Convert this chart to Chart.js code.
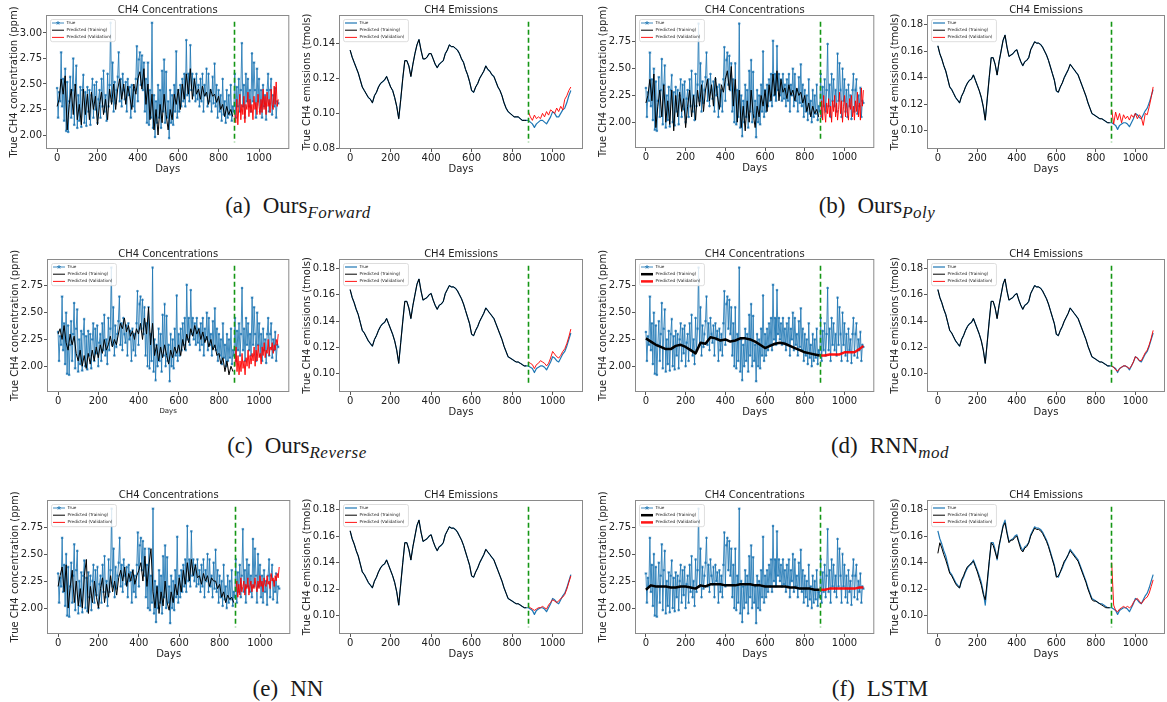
<!DOCTYPE html>
<html>
<head>
<meta charset="utf-8">
<script src="https://cdn.jsdelivr.net/npm/chart.js@4.4.0/dist/chart.umd.min.js"></script>
<style>
html, body { margin: 0; padding: 0; background: #fff; }
#fig { position: relative; width: 1167px; height: 702px; overflow: hidden; }
#fig canvas { position: absolute; }
.cap { position: absolute; font-family: 'Liberation Serif', serif; font-size: 23px; color: #1a1a1a; white-space: nowrap; transform: translateX(-50%); }
.cap .tag { margin-right: 12px; }
.cap sub { font-style: italic; font-size: 17px; vertical-align: -5px; line-height: 0; letter-spacing: 0.5px; }
</style>
</head>
<body>
<div id="fig"></div>
<script>
// split between training and validation (days)
const splitDay = 876;

const xTicks = [0, 200, 400, 600, 800, 1000];
const concTicksA = [2.00, 2.25, 2.50, 2.75, 3.00];
const concTicks = [2.00, 2.25, 2.50, 2.75];
const emisTicksA = [0.08, 0.10, 0.12, 0.14];
const emisTicks = [0.10, 0.12, 0.14, 0.16, 0.18];

function range(a, b, s) { const r = []; for (let v = a; v <= b; v += s) r.push(v); return r; }
const concDays = range(0, 1095, 5);
const trainDays = range(0, 870, 10);
const valDays = range(880, 1095, 5);
const smoothTrainDays = range(0, 875, 25);
const smoothValDays = [875, 900, 925, 950, 975, 1000, 1025, 1050, 1075, 1095];
const emisDays = range(0, 1090, 10);
const emisValDays = range(880, 1090, 10);

// ---- CH4 concentrations, true (panel a uses its own scaling)
const concTrueA = [
  2.46,2.17,2.42,2.33,2.81,2.28,2.55,2.14,2.65,2.04, 2.52,2.03,2.33,2.57,2.17,2.44,2.75,2.10,2.49,2.68,
  2.07,2.39,2.14,2.47,2.08,2.44,2.59,2.12,2.42,2.09, 2.47,2.23,2.44,2.10,2.39,2.55,2.17,2.49,2.25,2.52,
  2.12,2.35,2.44,2.17,2.55,2.28,2.63,2.23,2.39,2.14, 2.60,2.28,2.49,3.10,2.33,2.71,2.23,2.52,2.31,2.44,
  2.57,2.81,2.33,2.55,2.28,2.60,2.44,2.35,2.52,2.23, 2.55,2.39,2.47,2.17,2.49,2.28,2.44,2.23,2.55,2.87,
  2.33,2.74,2.81,2.49,2.78,2.44,2.71,2.23,2.55,2.12, 2.71,2.10,2.44,2.17,3.10,2.07,2.39,1.98,2.33,2.12,
  2.49,2.17,2.44,2.07,2.63,2.23,2.74,2.12,2.62,2.17, 2.33,1.97,2.44,2.12,2.39,2.10,2.49,2.23,2.82,2.17,
  2.44,2.23,2.49,2.28,2.55,2.33,2.60,2.28,2.93,2.39, 2.60,2.33,2.88,2.44,2.60,2.39,2.55,2.33,2.60,2.35,
  2.49,2.28,2.55,2.33,2.60,2.23,2.49,2.39,2.65,2.28, 2.60,2.33,2.44,2.23,2.57,2.31,2.70,2.28,2.49,2.17,
  2.44,2.23,2.39,2.14,2.55,2.20,2.33,2.12,2.44,2.17, 2.39,2.20,2.49,2.14,2.28,2.23,2.60,2.17,2.47,2.28,
  2.55,2.23,2.44,2.90,2.28,2.49,2.17,2.60,2.33,2.55, 2.28,2.44,2.23,2.80,2.33,2.71,2.44,2.17,2.65,2.33,
  2.55,2.23,2.44,2.17,2.49,2.28,2.39,2.15,2.44,2.60, 2.23,2.44,2.55,2.20,2.39,2.28,2.46,2.17,2.33,2.31
];
const concTrue = [
  2.32,2.05,2.28,2.20,2.65,2.15,2.40,2.02,2.50,1.93, 2.38,1.92,2.20,2.42,2.05,2.30,2.59,1.98,2.35,2.53,
  1.95,2.25,2.02,2.33,1.96,2.30,2.44,2.00,2.28,1.97, 2.33,2.10,2.30,1.98,2.25,2.40,2.05,2.35,2.12,2.38,
  2.00,2.22,2.30,2.05,2.40,2.15,2.48,2.10,2.25,2.02, 2.45,2.15,2.35,2.92,2.20,2.55,2.10,2.38,2.18,2.30,
  2.42,2.65,2.20,2.40,2.15,2.45,2.30,2.22,2.38,2.10, 2.40,2.25,2.33,2.05,2.35,2.15,2.30,2.10,2.40,2.70,
  2.20,2.58,2.65,2.35,2.62,2.30,2.55,2.10,2.40,2.00, 2.55,1.98,2.30,2.05,2.92,1.95,2.25,1.87,2.20,2.00,
  2.35,2.05,2.30,1.95,2.48,2.10,2.58,2.00,2.47,2.05, 2.20,1.86,2.30,2.00,2.25,1.98,2.35,2.10,2.66,2.05,
  2.30,2.10,2.35,2.15,2.40,2.20,2.45,2.15,2.76,2.25, 2.45,2.20,2.71,2.30,2.45,2.25,2.40,2.20,2.45,2.22,
  2.35,2.15,2.40,2.20,2.45,2.10,2.35,2.25,2.50,2.15, 2.45,2.20,2.30,2.10,2.42,2.18,2.54,2.15,2.35,2.05,
  2.30,2.10,2.25,2.02,2.40,2.08,2.20,2.00,2.30,2.05, 2.25,2.08,2.35,2.02,2.15,2.10,2.45,2.05,2.33,2.15,
  2.40,2.10,2.30,2.73,2.15,2.35,2.05,2.45,2.20,2.40, 2.15,2.30,2.10,2.64,2.20,2.55,2.30,2.05,2.50,2.20,
  2.40,2.10,2.30,2.05,2.35,2.15,2.25,2.03,2.30,2.45, 2.10,2.30,2.40,2.08,2.25,2.15,2.32,2.05,2.20,2.18
];

// ---- predicted concentrations (training every 10 days, validation every 5 days)
const concTrainA = [
  2.28,2.35,2.55,2.40,2.58,2.05,2.30,2.45,2.20,2.50, 2.15,2.30,2.10,2.45,2.20,2.40,2.15,2.42,2.25,2.38,
  2.10,2.30,2.42,2.20,2.35,2.15,2.45,2.30,2.50,2.25, 2.45,2.55,2.35,2.50,2.30,2.48,2.38,2.25,2.50,2.40,
  2.55,2.62,2.45,2.65,2.30,2.50,2.15,2.40,2.05,2.25, 2.00,2.30,2.12,2.40,2.20,2.05,2.25,2.15,2.40,2.30,
  2.45,2.25,2.50,2.35,2.60,2.40,2.65,2.35,2.55,2.40, 2.45,2.35,2.48,2.38,2.42,2.30,2.45,2.38,2.40,2.32,
  2.38,2.25,2.30,2.18,2.28,2.20,2.25,2.18
];
const concValA = [
  2.20,2.12,2.35,2.10,2.28,2.40,2.15,2.30,2.20,2.38, 2.12,2.30,2.25,2.42,2.18,2.35,2.22,2.30,2.15,2.38,
  2.25,2.32,2.20,2.40,2.28,2.20,2.35,2.22,2.45,2.25, 2.38,2.20,2.42,2.28,2.35,2.22,2.45,2.30,2.25,2.48,
  2.30,2.52,2.28,2.35
];
const concTrainPoly = [
  2.18,2.25,2.40,2.20,2.45,1.95,2.15,2.30,2.05,2.35, 2.00,2.20,1.98,2.30,1.92,2.25,2.05,2.28,2.10,2.22,
  1.95,2.15,2.30,2.05,2.25,2.02,2.30,2.15,2.35,2.10, 2.30,2.40,2.20,2.35,2.15,2.42,2.25,2.12,2.35,2.28,
  2.40,2.48,2.30,2.52,2.15,2.40,2.00,2.30,1.95,2.15, 1.92,2.20,2.00,2.30,2.08,1.95,2.15,2.05,2.25,2.15,
  2.30,2.10,2.35,2.20,2.45,2.25,2.48,2.20,2.40,2.28, 2.32,2.22,2.35,2.25,2.30,2.20,2.32,2.25,2.28,2.18,
  2.25,2.10,2.18,2.05,2.15,2.08,2.12,2.05
];
const concValPoly = [
  2.05,2.20,2.02,2.25,2.10,2.00,2.18,2.08,2.22,2.05, 2.15,2.00,2.20,2.10,2.25,2.05,2.18,2.02,2.12,2.28,
  2.08,2.20,2.00,2.15,2.25,2.05,2.18,2.10,2.02,2.22, 2.12,2.25,2.05,2.15,2.02,2.20,2.10,2.28,2.05,2.18,
  2.02,2.32,2.15,2.30
];
const concTrainRev = [
  2.30,2.35,2.25,2.38,2.22,2.15,2.30,2.20,2.28,2.12, 2.05,2.15,2.00,2.10,1.98,2.12,2.02,2.15,2.05,2.18,
  2.08,2.20,2.12,2.25,2.15,2.20,2.28,2.18,2.25,2.20, 2.30,2.40,2.35,2.45,2.32,2.38,2.28,2.33,2.25,2.35,
  2.30,2.40,2.25,2.45,2.30,2.55,2.20,2.40,2.10,2.20, 2.05,2.18,2.08,2.20,2.10,2.02,2.15,2.08,2.18,2.12,
  2.20,2.10,2.25,2.15,2.30,2.22,2.35,2.28,2.38,2.30, 2.35,2.25,2.32,2.22,2.28,2.18,2.25,2.15,2.20,2.10,
  2.12,2.02,2.08,1.95,2.05,1.92,2.00,1.95
];
const concValRev = [
  2.00,2.18,1.95,2.10,1.92,2.05,1.95,2.12,1.98,2.05, 1.92,2.08,2.00,2.15,1.98,2.10,2.02,2.12,2.05,2.18,
  2.00,2.15,2.05,2.20,2.08,2.12,2.02,2.18,2.10,2.22, 2.08,2.15,2.12,2.25,2.10,2.18,2.15,2.22,2.12,2.20,
  2.15,2.25,2.20,2.30
];
const concTrainNN = [
  2.20,2.30,2.38,2.15,2.40,2.00,2.20,2.35,2.05,2.25, 2.02,2.18,2.00,2.30,2.45,1.95,2.20,2.05,2.25,2.10,
  2.00,2.18,2.28,2.05,2.22,2.10,2.30,2.15,2.25,2.12, 2.28,2.35,2.25,2.38,2.20,2.32,2.25,2.35,2.22,2.30,
  2.35,2.42,2.25,2.48,2.20,2.40,2.55,2.15,2.00,2.20, 1.95,2.15,2.02,2.25,2.05,1.98,2.15,2.05,2.22,2.12,
  2.28,2.15,2.35,2.22,2.42,2.25,2.45,2.30,2.40,2.28, 2.30,2.22,2.32,2.25,2.30,2.20,2.28,2.25,2.25,2.18,
  2.22,2.10,2.15,2.05,2.12,2.08,2.10,2.05
];
const concValNN = [
  2.15,2.25,2.10,2.22,2.12,2.28,2.15,2.20,2.25,2.12, 2.22,2.18,2.28,2.12,2.20,2.25,2.15,2.22,2.18,2.28,
  2.20,2.15,2.25,2.18,2.30,2.20,2.25,2.15,2.28,2.22, 2.20,2.30,2.22,2.25,2.18,2.32,2.25,2.28,2.20,2.30,
  2.25,2.32,2.28,2.38
];
// smooth predictions (every 25 days)
const concTrainRNN = [
  2.26,2.23,2.20,2.18,2.16,2.16,2.19,2.20,2.18,2.15, 2.12,2.22,2.21,2.27,2.26,2.24,2.25,2.23,2.24,2.26,
  2.26,2.25,2.23,2.20,2.17,2.19,2.21,2.22,2.21,2.19, 2.17,2.15,2.13,2.12,2.11,2.10
];
const concValRNN = [2.10,2.10,2.11,2.11,2.11,2.13,2.13,2.13,2.16,2.19];
const concTrainLSTM = [
  2.17,2.21,2.20,2.20,2.20,2.19,2.19,2.20,2.20,2.19, 2.18,2.21,2.20,2.22,2.22,2.22,2.21,2.21,2.21,2.22,
  2.22,2.22,2.21,2.21,2.20,2.20,2.20,2.20,2.20,2.19, 2.19,2.18,2.18,2.18,2.17,2.17
];
const concValLSTM = [2.17,2.17,2.18,2.18,2.18,2.18,2.18,2.18,2.19,2.19];

// ---- CH4 emissions, true (every 10 days)
const emisTrueA = [
  0.136,0.132,0.129,0.126,0.123,0.119,0.115,0.113,0.111,0.109, 0.108,0.106,0.110,0.112,0.115,0.117,0.118,0.119,0.121,0.118,
  0.115,0.113,0.109,0.104,0.097,0.108,0.120,0.130,0.130,0.127, 0.121,0.128,0.134,0.139,0.142,0.136,0.131,0.131,0.132,0.134,
  0.134,0.131,0.128,0.126,0.128,0.129,0.130,0.134,0.136,0.139, 0.138,0.138,0.137,0.136,0.134,0.131,0.129,0.125,0.122,0.118,
  0.113,0.112,0.115,0.117,0.120,0.122,0.124,0.127,0.125,0.124, 0.122,0.121,0.118,0.115,0.113,0.110,0.106,0.103,0.101,0.100,
  0.099,0.098,0.098,0.098,0.097,0.096,0.096,0.096,0.096,0.095, 0.094,0.092,0.094,0.095,0.096,0.096,0.095,0.094,0.096,0.098,
  0.101,0.100,0.098,0.098,0.100,0.102,0.103,0.106,0.110,0.113
];
const emisTrue = [
  0.164,0.158,0.154,0.149,0.145,0.139,0.133,0.131,0.128,0.125, 0.123,0.121,0.126,0.129,0.133,0.136,0.138,0.139,0.142,0.138,
  0.134,0.130,0.125,0.118,0.108,0.124,0.140,0.155,0.155,0.150, 0.142,0.152,0.160,0.168,0.172,0.163,0.156,0.157,0.158,0.160,
  0.161,0.156,0.152,0.149,0.152,0.153,0.155,0.161,0.164,0.167, 0.166,0.166,0.165,0.163,0.160,0.157,0.153,0.148,0.143,0.138,
  0.130,0.129,0.133,0.136,0.140,0.143,0.146,0.150,0.148,0.146, 0.144,0.142,0.138,0.134,0.130,0.126,0.121,0.117,0.113,0.112,
  0.111,0.110,0.109,0.109,0.108,0.107,0.106,0.106,0.106,0.105, 0.104,0.101,0.104,0.105,0.106,0.106,0.105,0.103,0.106,0.109,
  0.113,0.112,0.110,0.109,0.112,0.115,0.117,0.121,0.126,0.131
];
const emisTrainLSTM = [
  0.147,0.155,0.151,0.146,0.142,0.137,0.132,0.130,0.127,0.124, 0.122,0.121,0.127,0.130,0.134,0.137,0.138,0.140,0.141,0.137,
  0.133,0.128,0.123,0.116,0.112,0.126,0.141,0.155,0.153,0.148, 0.143,0.153,0.160,0.167,0.170,0.162,0.155,0.157,0.157,0.159,
  0.160,0.155,0.150,0.148,0.151,0.152,0.155,0.160,0.163,0.166, 0.165,0.165,0.164,0.162,0.159,0.156,0.152,0.147,0.142,0.137,
  0.129,0.130,0.133,0.137,0.141,0.143,0.146,0.149,0.147,0.145, 0.143,0.141,0.137,0.133,0.129,0.125,0.120,0.116,0.112,0.111,
  0.111,0.110,0.109,0.108,0.107,0.106,0.106,0.106
];
// predicted emissions, validation (every 10 days from 880)
const emisValA    = [0.101,0.098,0.096,0.099,0.097,0.098,0.097,0.100,0.098,0.101,0.099,0.102,0.101,0.100,0.103,0.101,0.104,0.102,0.108,0.110,0.113,0.115];
const emisValPoly = [0.116,0.105,0.114,0.108,0.113,0.106,0.112,0.109,0.111,0.108,0.112,0.110,0.113,0.109,0.112,0.110,0.104,0.113,0.112,0.118,0.125,0.133];
const emisValRev  = [0.109,0.108,0.107,0.104,0.107,0.108,0.110,0.109,0.108,0.106,0.108,0.112,0.117,0.115,0.113,0.112,0.114,0.117,0.119,0.123,0.128,0.134];
const emisValRNN  = [0.106,0.105,0.103,0.102,0.104,0.105,0.106,0.106,0.105,0.104,0.106,0.109,0.113,0.112,0.110,0.110,0.113,0.116,0.118,0.122,0.127,0.133];
const emisValNN   = [0.107,0.106,0.105,0.104,0.105,0.106,0.106,0.107,0.106,0.105,0.108,0.110,0.112,0.111,0.110,0.111,0.113,0.114,0.116,0.120,0.125,0.130];
const emisValLSTM = [0.140,0.108,0.104,0.103,0.105,0.106,0.107,0.106,0.107,0.106,0.107,0.110,0.112,0.113,0.111,0.109,0.111,0.113,0.114,0.117,0.122,0.127];

const BLUE = '#1f77b4', BLACK = '#000000', RED = 'rgba(255,0,0,0.92)', GREEN = 'rgb(20,150,20)';
Chart.defaults.font.family = "'DejaVu Sans', sans-serif";
Chart.defaults.color = '#222';

const fig = document.getElementById('fig');
const pts = (xs, ys) => ys.map((y, i) => ({ x: xs[i], y: y }));

function drawStar(ctx, x, y, r) {
  ctx.beginPath();
  for (let k = 0; k < 5; k++) {
    const a = -Math.PI / 2 + k * 2 * Math.PI / 5;
    ctx.moveTo(x, y); ctx.lineTo(x + r * Math.cos(a), y + r * Math.sin(a));
  }
  ctx.stroke();
}

function deco(title) {
  return {
    id: 'deco',
    afterDatasetsDraw(chart) {
      const { ctx, chartArea: a, scales } = chart;
      const h = a.bottom - a.top;
      ctx.save();
      // train / validation split
      const x = Math.round(scales.x.getPixelForValue(splitDay)) + 0.5;
      ctx.strokeStyle = GREEN; ctx.lineWidth = 1.6; ctx.setLineDash([5, 3]);
      ctx.beginPath(); ctx.moveTo(x, a.top + 0.05 * h); ctx.lineTo(x, a.bottom - 0.05 * h); ctx.stroke();
      ctx.setLineDash([]);
      // axes frame
      ctx.strokeStyle = '#8a8a8a'; ctx.lineWidth = 1;
      ctx.strokeRect(a.left + 0.5, a.top + 0.5, a.right - a.left - 1, h - 1);
      // title
      ctx.fillStyle = '#222'; ctx.font = "10px 'DejaVu Sans'"; ctx.textAlign = 'center'; ctx.textBaseline = 'alphabetic';
      ctx.fillText(title, (a.left + a.right) / 2, a.top - 2.5);
      // legend
      const ds = chart.data.datasets;
      ctx.font = "4.2px 'DejaVu Sans'";
      const tw = Math.max(...ds.map(d => ctx.measureText(d.label).width));
      const x0 = a.left + 4, y0 = a.top + 4, w = tw + 20, hh = ds.length * 7.2 + 0.6;
      ctx.fillStyle = 'rgba(255,255,255,0.85)'; ctx.strokeStyle = '#d4d4d4'; ctx.lineWidth = 0.8;
      ctx.beginPath(); ctx.roundRect(x0 + 0.5, y0 + 0.5, w, hh, 2); ctx.fill(); ctx.stroke();
      ds.forEach((d, i) => {
        const yy = y0 + 4 + i * 7.2;
        ctx.strokeStyle = d.borderColor; ctx.lineWidth = d.borderWidth;
        ctx.beginPath(); ctx.moveTo(x0 + 2, yy); ctx.lineTo(x0 + 14, yy); ctx.stroke();
        if (d.pointRadius) { ctx.strokeStyle = BLUE; ctx.lineWidth = 0.8; drawStar(ctx, x0 + 8, yy, 2); }
        ctx.fillStyle = '#222'; ctx.textAlign = 'left'; ctx.textBaseline = 'middle';
        ctx.fillText(d.label, x0 + 16.5, yy);
      });
      ctx.restore();
    }
  };
}

function zeroPad(s) { s.paddingLeft = 0; s.paddingRight = 0; s.paddingTop = 0; s.paddingBottom = 0; }

function addChart(frame, title, yLabel, yMin, yMax, yTicks, datasets, daysSize) {
  const [L, T, R, B] = frame;
  const yW = 40, xH = 28, padT = 20, padR = 2;
  const c = document.createElement('canvas');
  c.width = R - L + yW + padR; c.height = B - T + padT + xH;
  c.style.left = (L - yW) + 'px'; c.style.top = (T - padT) + 'px';
  fig.appendChild(c);
  const small = daysSize && daysSize < 10;
  new Chart(c, {
    type: 'line',
    data: { datasets: datasets },
    options: {
      responsive: false, animation: false, events: [],
      layout: { padding: { top: padT, right: padR, left: 0, bottom: 0 } },
      plugins: { legend: { display: false }, tooltip: { enabled: false } },
      elements: { line: { tension: 0, borderJoinStyle: 'round' } },
      scales: {
        x: {
          type: 'linear', min: -55, max: 1150,
          afterBuildTicks: s => { s.ticks = xTicks.map(v => ({ value: v })); },
          afterFit: s => { s.height = xH; zeroPad(s); },
          ticks: { color: '#222', font: { size: 10 }, padding: 0, maxRotation: 0, autoSkip: false, callback: v => String(v) },
          grid: { display: true, drawOnChartArea: false, drawTicks: true, tickLength: 3, color: '#555' },
          border: { display: false },
          title: { display: true, text: 'Days', color: '#222', font: { size: daysSize || 10 }, padding: { top: 0, bottom: small ? 5 : 2 } }
        },
        y: {
          type: 'linear', min: yMin, max: yMax,
          afterBuildTicks: s => { s.ticks = yTicks.map(v => ({ value: v })); },
          afterFit: s => { s.width = yW; zeroPad(s); },
          ticks: { color: '#222', font: { size: 10 }, padding: 1, autoSkip: false, callback: v => v.toFixed(2) },
          grid: { display: true, drawOnChartArea: false, drawTicks: true, tickLength: 3, color: '#555' },
          border: { display: false },
          title: { display: true, text: yLabel, color: '#222', font: { size: 10 }, padding: { top: 2.5, bottom: 0 } }
        }
      }
    },
    plugins: [deco(title)]
  });
}

function concSets(trueVals, tDays, tVals, vDays, vVals, lw) {
  return [
    { label: 'True', data: pts(concDays, trueVals), borderColor: 'rgba(31,119,180,0.85)', borderWidth: 1,
      pointStyle: 'star', pointRadius: 1.3, pointBorderWidth: 0.7, pointBorderColor: BLUE, pointBackgroundColor: BLUE, order: 3 },
    { label: 'Predicted (Training)', data: pts(tDays, tVals), borderColor: BLACK, borderWidth: lw, pointRadius: 0, order: 2 },
    { label: 'Predicted (Validation)', data: pts(vDays, vVals), borderColor: RED, borderWidth: lw, pointRadius: 0, order: 1 }
  ];
}
function emisSets(trueVals, tVals, vVals) {
  return [
    { label: 'True', data: pts(emisDays, trueVals), borderColor: BLUE, borderWidth: 1.2, pointRadius: 0, order: 3 },
    { label: 'Predicted (Training)', data: pts(emisDays, tVals), borderColor: BLACK, borderWidth: 1, pointRadius: 0, order: 2 },
    { label: 'Predicted (Validation)', data: pts(emisValDays, vVals), borderColor: RED, borderWidth: 1, pointRadius: 0, order: 1 }
  ];
}

const concLabel = 'True CH4 concentration (ppm)';
const emisLabel = 'True CH4 emissions (tmols)';
const cT = 'CH4 Concentrations', eT = 'CH4 Emissions';
const cMin = 1.76, cMax = 3.0, eMin = 0.0862, eMax = 0.1872;
const emisTrain = emisTrue.slice(0, trainDays.length);
const emisTrainA = emisTrueA.slice(0, trainDays.length);

// (a) Ours Forward
addChart([46, 15, 292, 149], cT, concLabel, 1.863, 3.176, concTicksA, concSets(concTrueA, trainDays, concTrainA, valDays, concValA, 1));
addChart([339, 15, 583, 149], eT, emisLabel, 0.0797, 0.156, emisTicksA, emisSets(emisTrueA, emisTrainA, emisValA));
// (b) Ours Poly
addChart([635, 15, 877, 148], cT, concLabel, cMin, cMax, concTicks, concSets(concTrue, trainDays, concTrainPoly, valDays, concValPoly, 1));
addChart([927, 15, 1165, 149], eT, emisLabel, eMin, eMax, emisTicks, emisSets(emisTrue, emisTrain, emisValPoly));
// (c) Ours Reverse
addChart([47, 259, 292, 392], cT, concLabel, cMin, cMax, concTicks, concSets(concTrue, trainDays, concTrainRev, valDays, concValRev, 1), 7);
addChart([339, 259, 583, 392], eT, emisLabel, eMin, eMax, emisTicks, emisSets(emisTrue, emisTrain, emisValRev));
// (d) RNN mod
addChart([635, 259, 877, 392], cT, concLabel, cMin, cMax, concTicks, concSets(concTrue, smoothTrainDays, concTrainRNN, smoothValDays, concValRNN, 2.5));
addChart([927, 259, 1165, 392], eT, emisLabel, eMin, eMax, emisTicks, emisSets(emisTrue, emisTrain, emisValRNN));
// (e) NN
addChart([47, 500, 293, 634], cT, concLabel, cMin, cMax, concTicks, concSets(concTrue, trainDays, concTrainNN, valDays, concValNN, 1));
addChart([339, 500, 583, 634], eT, emisLabel, eMin, eMax, emisTicks, emisSets(emisTrue, emisTrain, emisValNN));
// (f) LSTM
addChart([635, 500, 877, 634], cT, concLabel, cMin, cMax, concTicks, concSets(concTrue, smoothTrainDays, concTrainLSTM, smoothValDays, concValLSTM, 2.5));
addChart([927, 500, 1165, 634], eT, emisLabel, eMin, eMax, emisTicks, emisSets(emisTrue, emisTrainLSTM, emisValLSTM));

// sub-figure captions
const captions = [
  ['(a)', 'Ours', 'Forward', 298, 193],
  ['(b)', 'Ours', 'Poly', 877, 193],
  ['(c)', 'Ours', 'Reverse', 297, 433],
  ['(d)', 'RNN', 'mod', 890, 433],
  ['(e)', 'NN', '', 288, 676],
  ['(f)', 'LSTM', '', 880, 676]
];
captions.forEach(([tag, name, sub, cx, top]) => {
  const d = document.createElement('div');
  d.className = 'cap';
  d.style.left = cx + 'px'; d.style.top = top + 'px';
  d.innerHTML = '<span class="tag">' + tag + '</span>' + name + (sub ? '<sub>' + sub + '</sub>' : '');
  fig.appendChild(d);
});
</script>
</body>
</html>
